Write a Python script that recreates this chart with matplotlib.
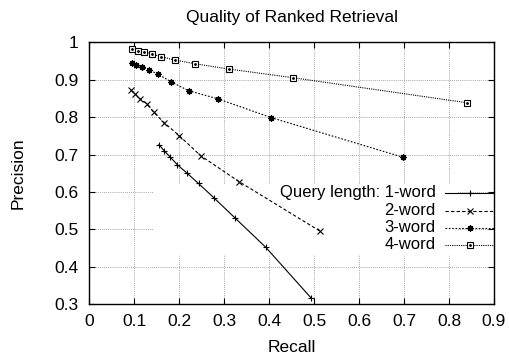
import matplotlib
matplotlib.use("Agg")
import matplotlib.pyplot as plt
from matplotlib.patches import Rectangle

plt.rcParams['font.family'] = ['Liberation Sans', 'DejaVu Sans']

# recall / precision readings per query length
recall_1 = [0.155, 0.166, 0.179, 0.196, 0.217, 0.243, 0.277, 0.324, 0.392, 0.494]
prec_1 = [0.727, 0.711, 0.695, 0.673, 0.651, 0.623, 0.585, 0.531, 0.453, 0.316]

recall_2 = [0.093, 0.102, 0.113, 0.128, 0.143, 0.166, 0.200, 0.248, 0.333, 0.514]
prec_2 = [0.873, 0.862, 0.849, 0.836, 0.814, 0.786, 0.751, 0.697, 0.628, 0.495]

recall_3 = [0.095, 0.105, 0.118, 0.133, 0.153, 0.182, 0.221, 0.287, 0.405, 0.698]
prec_3 = [0.946, 0.941, 0.934, 0.927, 0.915, 0.895, 0.871, 0.849, 0.799, 0.693]

recall_4 = [0.096, 0.108, 0.122, 0.139, 0.160, 0.190, 0.236, 0.310, 0.452, 0.839]
prec_4 = [0.982, 0.978, 0.975, 0.969, 0.962, 0.953, 0.943, 0.929, 0.906, 0.839]

labels = ['1-word', '2-word', '3-word', '4-word']
xticks = [0, 0.1, 0.2, 0.3, 0.4, 0.5, 0.6, 0.7, 0.8, 0.9]
yticks = [0.3, 0.4, 0.5, 0.6, 0.7, 0.8, 0.9, 1]

fig = plt.figure(figsize=(5.1, 3.54), dpi=100)
ax = fig.add_axes([0.175, 0.1404, 0.7936, 0.7396])

series = [
    (recall_1, prec_1, dict(ls='-', marker='+', ms=5, mew=0.8)),
    (recall_2, prec_2, dict(ls=(0, (3, 2)), marker='x', ms=4, mew=0.8)),
    (recall_3, prec_3, dict(ls=(0, (1.5, 1.5)), marker=(8, 2, 0), ms=4.5, mew=0.9)),
    (recall_4, prec_4, dict(ls=(0, (1, 1)), marker='s', ms=5, mew=0.8, mfc='white')),
]
for xs, ys, st in series:
    ax.plot(xs, ys, color='black', lw=0.8, zorder=3, **st)
# small dot inside the squares
ax.plot(recall_4, prec_4, ls='none', marker='.', ms=2, color='black', zorder=4)

ax.set_xlim(0, 0.9)
ax.set_ylim(0.3, 1)
ax.set_xticks(xticks)
ax.set_xticklabels(['0' if v == 0 else f'{v:g}' for v in xticks])
ax.set_yticks(yticks)
ax.set_yticklabels([f'{v:g}' for v in yticks])
ax.tick_params(direction='in', length=4, width=0.8, top=True, right=True,
               labelsize=12.5)
ax.tick_params(axis='y', pad=8)
ax.tick_params(axis='x', pad=7)
ax.grid(True, ls=(0, (1, 1.5)), color='#888888', lw=0.6, zorder=0)
ax.set_axisbelow(True)
for s in ax.spines.values():
    s.set_linewidth(1.0)

# white legend area hiding grid
ax.add_patch(Rectangle((0.158, 0.19), 0.75, 0.265, transform=ax.transAxes,
                       facecolor='white', edgecolor='none', zorder=1))

# legend, gnuplot style
ly = [0.427, 0.357, 0.292, 0.228]
for i, (xs, ys, st) in enumerate(series):
    ax.plot([0.88, 1.0], [ly[i], ly[i]], transform=ax.transAxes, color='black',
            lw=0.8, ls=st['ls'], zorder=3, clip_on=False)
    mk = dict(st)
    mk.pop('ls')
    ax.plot([0.94], [ly[i]], transform=ax.transAxes, color='black', ls='none',
            zorder=3, clip_on=False, **mk)
    txt = labels[i] if i else 'Query length: ' + labels[i]
    ax.text(0.856, ly[i], txt, transform=ax.transAxes, ha='right', va='center',
            fontsize=12, zorder=4)
ax.plot([0.94], [ly[3]], transform=ax.transAxes, ls='none', marker='.', ms=2,
        color='black', zorder=4, clip_on=False)

ax.set_title('Quality of Ranked Retrieval', fontsize=12.5, pad=15)
ax.set_xlabel('Recall', fontsize=12.5, labelpad=8)
ax.set_ylabel('Precision', fontsize=12.5, labelpad=20)

fig.savefig('out.png', dpi=100)
